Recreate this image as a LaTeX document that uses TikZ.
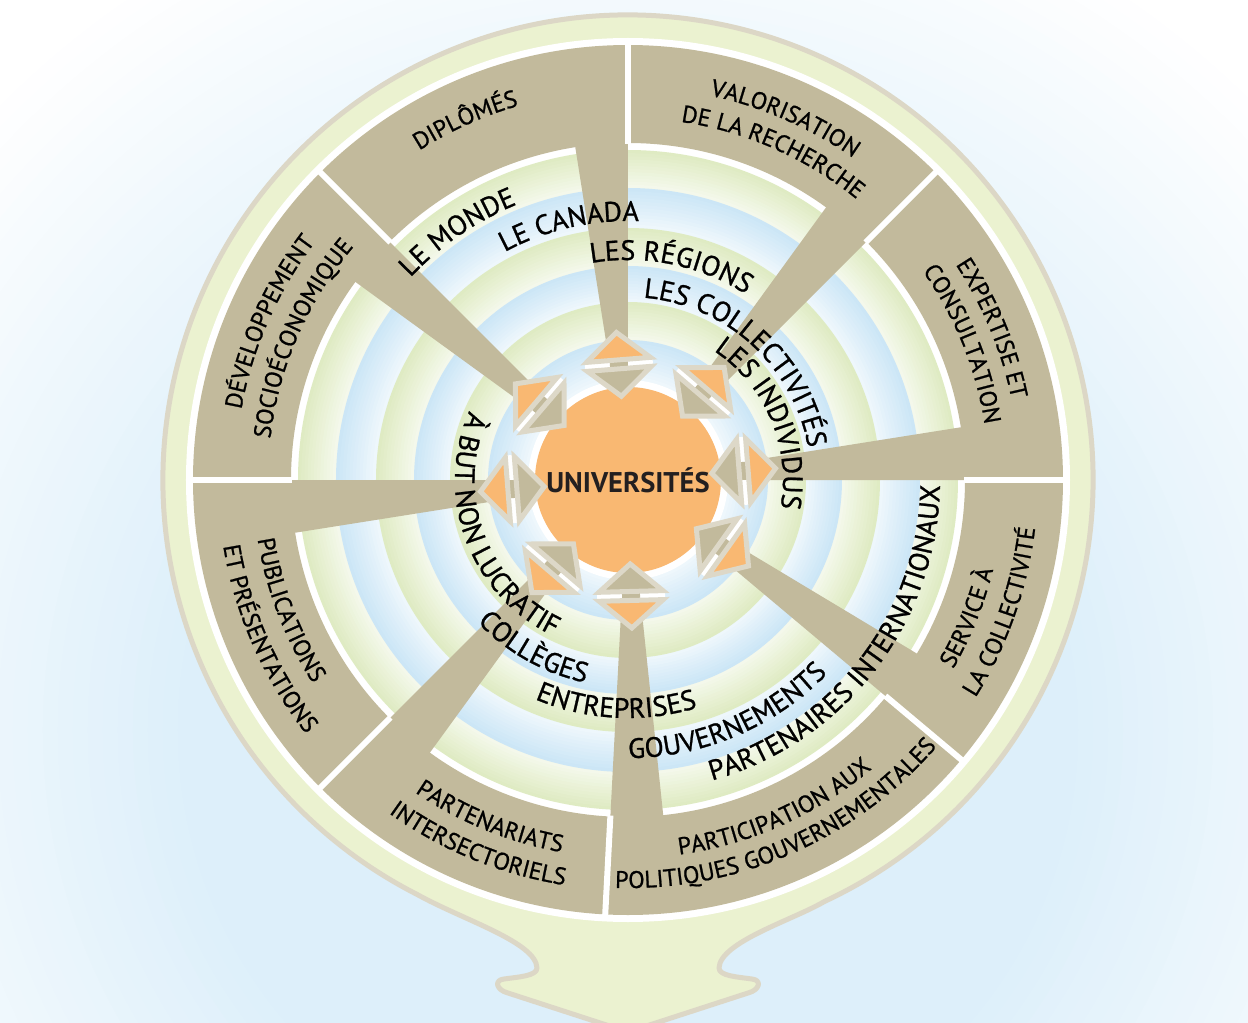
\documentclass[tikz,border=0pt]{standalone}
\usepackage{fontspec}
\setmainfont{PT Sans}
\newfontfamily\medfont{PT Sans}[FakeBold=0.9]
\usetikzlibrary{decorations.text}
\definecolor{secgray}{HTML}{C2BA9C}
\definecolor{orng}{HTML}{F9B872}
\definecolor{mborder}{HTML}{DDD8C8}
\definecolor{bulbg}{HTML}{EBF2D0}
\definecolor{bulbb}{HTML}{DCD7C6}
\definecolor{ringg}{HTML}{DFEBC3}
\definecolor{ringb}{HTML}{CCE6F6}
\definecolor{glowc}{HTML}{DDEFFA}
\definecolor{txt}{HTML}{231F20}
\newcommand\ringfont{\medfont\fontsize{28}{30}\selectfont}
\newcommand\secfont{\medfont\fontsize{24}{26}\selectfont}
\newcommand\cwtext[4]{\path[decorate,decoration={text along path,text align=center,text={|#3|#4}}] ({#1+85}:#2) arc[start angle={#1+85},end angle={#1-85},radius=#2];}
\newcommand\ccwtext[4]{\path[decorate,decoration={text along path,text align=center,text={|#3|#4}}] ({#1-85}:#2) arc[start angle={#1-85},end angle={#1+85},radius=#2];}
\tikzset{
  sector/.style={fill=secgray},
  sepline/.style={draw=white,line width=6},
  markborder/.style={draw=mborder,line width=5,line join=miter},
}
\begin{document}
\begin{tikzpicture}[x=1pt,y=1pt]
\useasboundingbox (-628,-543) rectangle (620,480);
\fill[white] (-628,-543) rectangle (620,480);
% soft glow
\foreach \k in {0,...,30}{
  \pgfmathsetmacro\gr{900-\k*15}
  \pgfmathtruncatemacro\gp{100*\k/30}
  \fill[glowc!\gp!white] (0,-250) circle (\gr);
}
% bulb
\filldraw[fill=bulbg,draw=bulbb,line width=5,line join=round]
 (-65:465) arc[start angle=-65,end angle=243,radius=465]
 .. controls (-165,-440) and (-92,-462) .. (-91,-488)
 .. controls (-91,-496) and (-110,-497) .. (-124,-499)
 .. controls (-134,-500) and (-132,-510) .. (-120,-513)
 -- (0,-552) -- (120,-513)
 .. controls (132,-510) and (134,-500) .. (124,-499)
 .. controls (110,-497) and (91,-496) .. (91,-488)
 .. controls (92,-462) and (165,-440) .. (-65:465) -- cycle;
\fill[white] (0,0) circle (442);
% rings
\foreach \ro/\ri/\c in {330/292/ringg,292/252/ringb,252/214/ringg,214/178/ringb,178/140/ringg,140/100/ringb}{
  \foreach \j in {0,...,11}{
    \pgfmathsetmacro\rr{\ro-\j*(\ro-\ri)/12}
    \pgfmathtruncatemacro\pc{100-\j*6}
    \fill[\c!\pc!white] (0,0) circle (\rr);
  }
}
\fill[white] (0,0) circle (100);
% sectors
\foreach \ta/\tb in {90/135,45/90,0/45,-40/0,-93/-40,-135/-93,180/225,135/180}{
  \fill[sector] (\ta:337) arc[start angle=\ta,end angle=\tb,radius=337] -- (\tb:435) arc[start angle=\tb,end angle=\ta,radius=435] -- cycle;
  \fill[sector] (\ta:105) -- (\ta:340) -- ({\ta+9}:340) -- ({\ta+9}:105) -- cycle;
}
\foreach \s in {90,45,0,-40,-93,-135,180,135}
  \draw[sepline] (\s:336) -- (\s:441);
% ring texts
\cwtext{124.5}{297}{\ringfont}{LE MONDE}
\cwtext{103}{259}{\ringfont}{LE CANADA}
\cwtext{78.6}{220}{\ringfont}{LES RÉGIONS}
\cwtext{47.6}{183}{\ringfont}{LES COLLECTIVITÉS}
\cwtext{23}{155}{\ringfont}{LES INDIVIDUS}
\ccwtext{200.5}{173}{\ringfont}{À BUT NON LUCRATIF}
\ccwtext{240.7}{207}{\ringfont}{COLLÈGES}
\ccwtext{267}{238}{\ringfont}{ENTREPRISES}
\ccwtext{293}{278}{\ringfont}{GOUVERNEMENTS}
\ccwtext{322.3}{312}{\ringfont}{PARTENAIRES INTERNATIONAUX}
% sector texts
\cwtext{114.3}{390}{\secfont}{DIPLÔMÉS}
\cwtext{66.5}{393}{\secfont}{VALORISATION}
\cwtext{66.2}{362}{\secfont}{DE LA RECHERCHE}
\cwtext{22.6}{392}{\secfont}{EXPERTISE ET}
\cwtext{22.1}{361}{\secfont}{CONSULTATION}
\cwtext{156.2}{393}{\secfont}{DÉVELOPPEMENT}
\cwtext{156.5}{360}{\secfont}{SOCIOÉCONOMIQUE}
\ccwtext{-22}{376}{\secfont}{SERVICE À}
\ccwtext{-19.4}{410}{\secfont}{LA COLLECTIVITÉ}
\ccwtext{-66}{378}{\secfont}{PARTICIPATION AUX}
\ccwtext{-66.3}{408}{\secfont}{POLITIQUES GOUVERNEMENTALES}
\ccwtext{247.8}{378}{\secfont}{PARTENARIATS}
\ccwtext{247.7}{410}{\secfont}{INTERSECTORIELS}
\ccwtext{201}{375}{\secfont}{PUBLICATIONS}
\ccwtext{203.8}{410}{\secfont}{ET PRÉSENTATIONS}
% centre
\fill[orng] (0,0) circle (93);
\node[font=\fontsize{28.5}{30}\selectfont\bfseries,text=txt] (univ) at (0,0) {UNIVERSITÉS};
% markers
\foreach \a in {94.5,49.5,4.5,-35.5,-88.5,-130.5,184.5,139.5}{
  \begin{scope}[shift={(\a:116)},rotate=\a-90]
    \fill[white] (-34,-2.5) rectangle (34,2.5);
    \fill[secgray] (-9,-2.5) rectangle (9,2.5);
    \filldraw[markborder,fill=orng] (-32,4.5) -- (32,4.5) -- (0,32) -- cycle;
    \filldraw[markborder,fill=secgray] (-32,-4.5) -- (32,-4.5) -- (0,-32) -- cycle;
  \end{scope}
}
\end{tikzpicture}
\end{document}
